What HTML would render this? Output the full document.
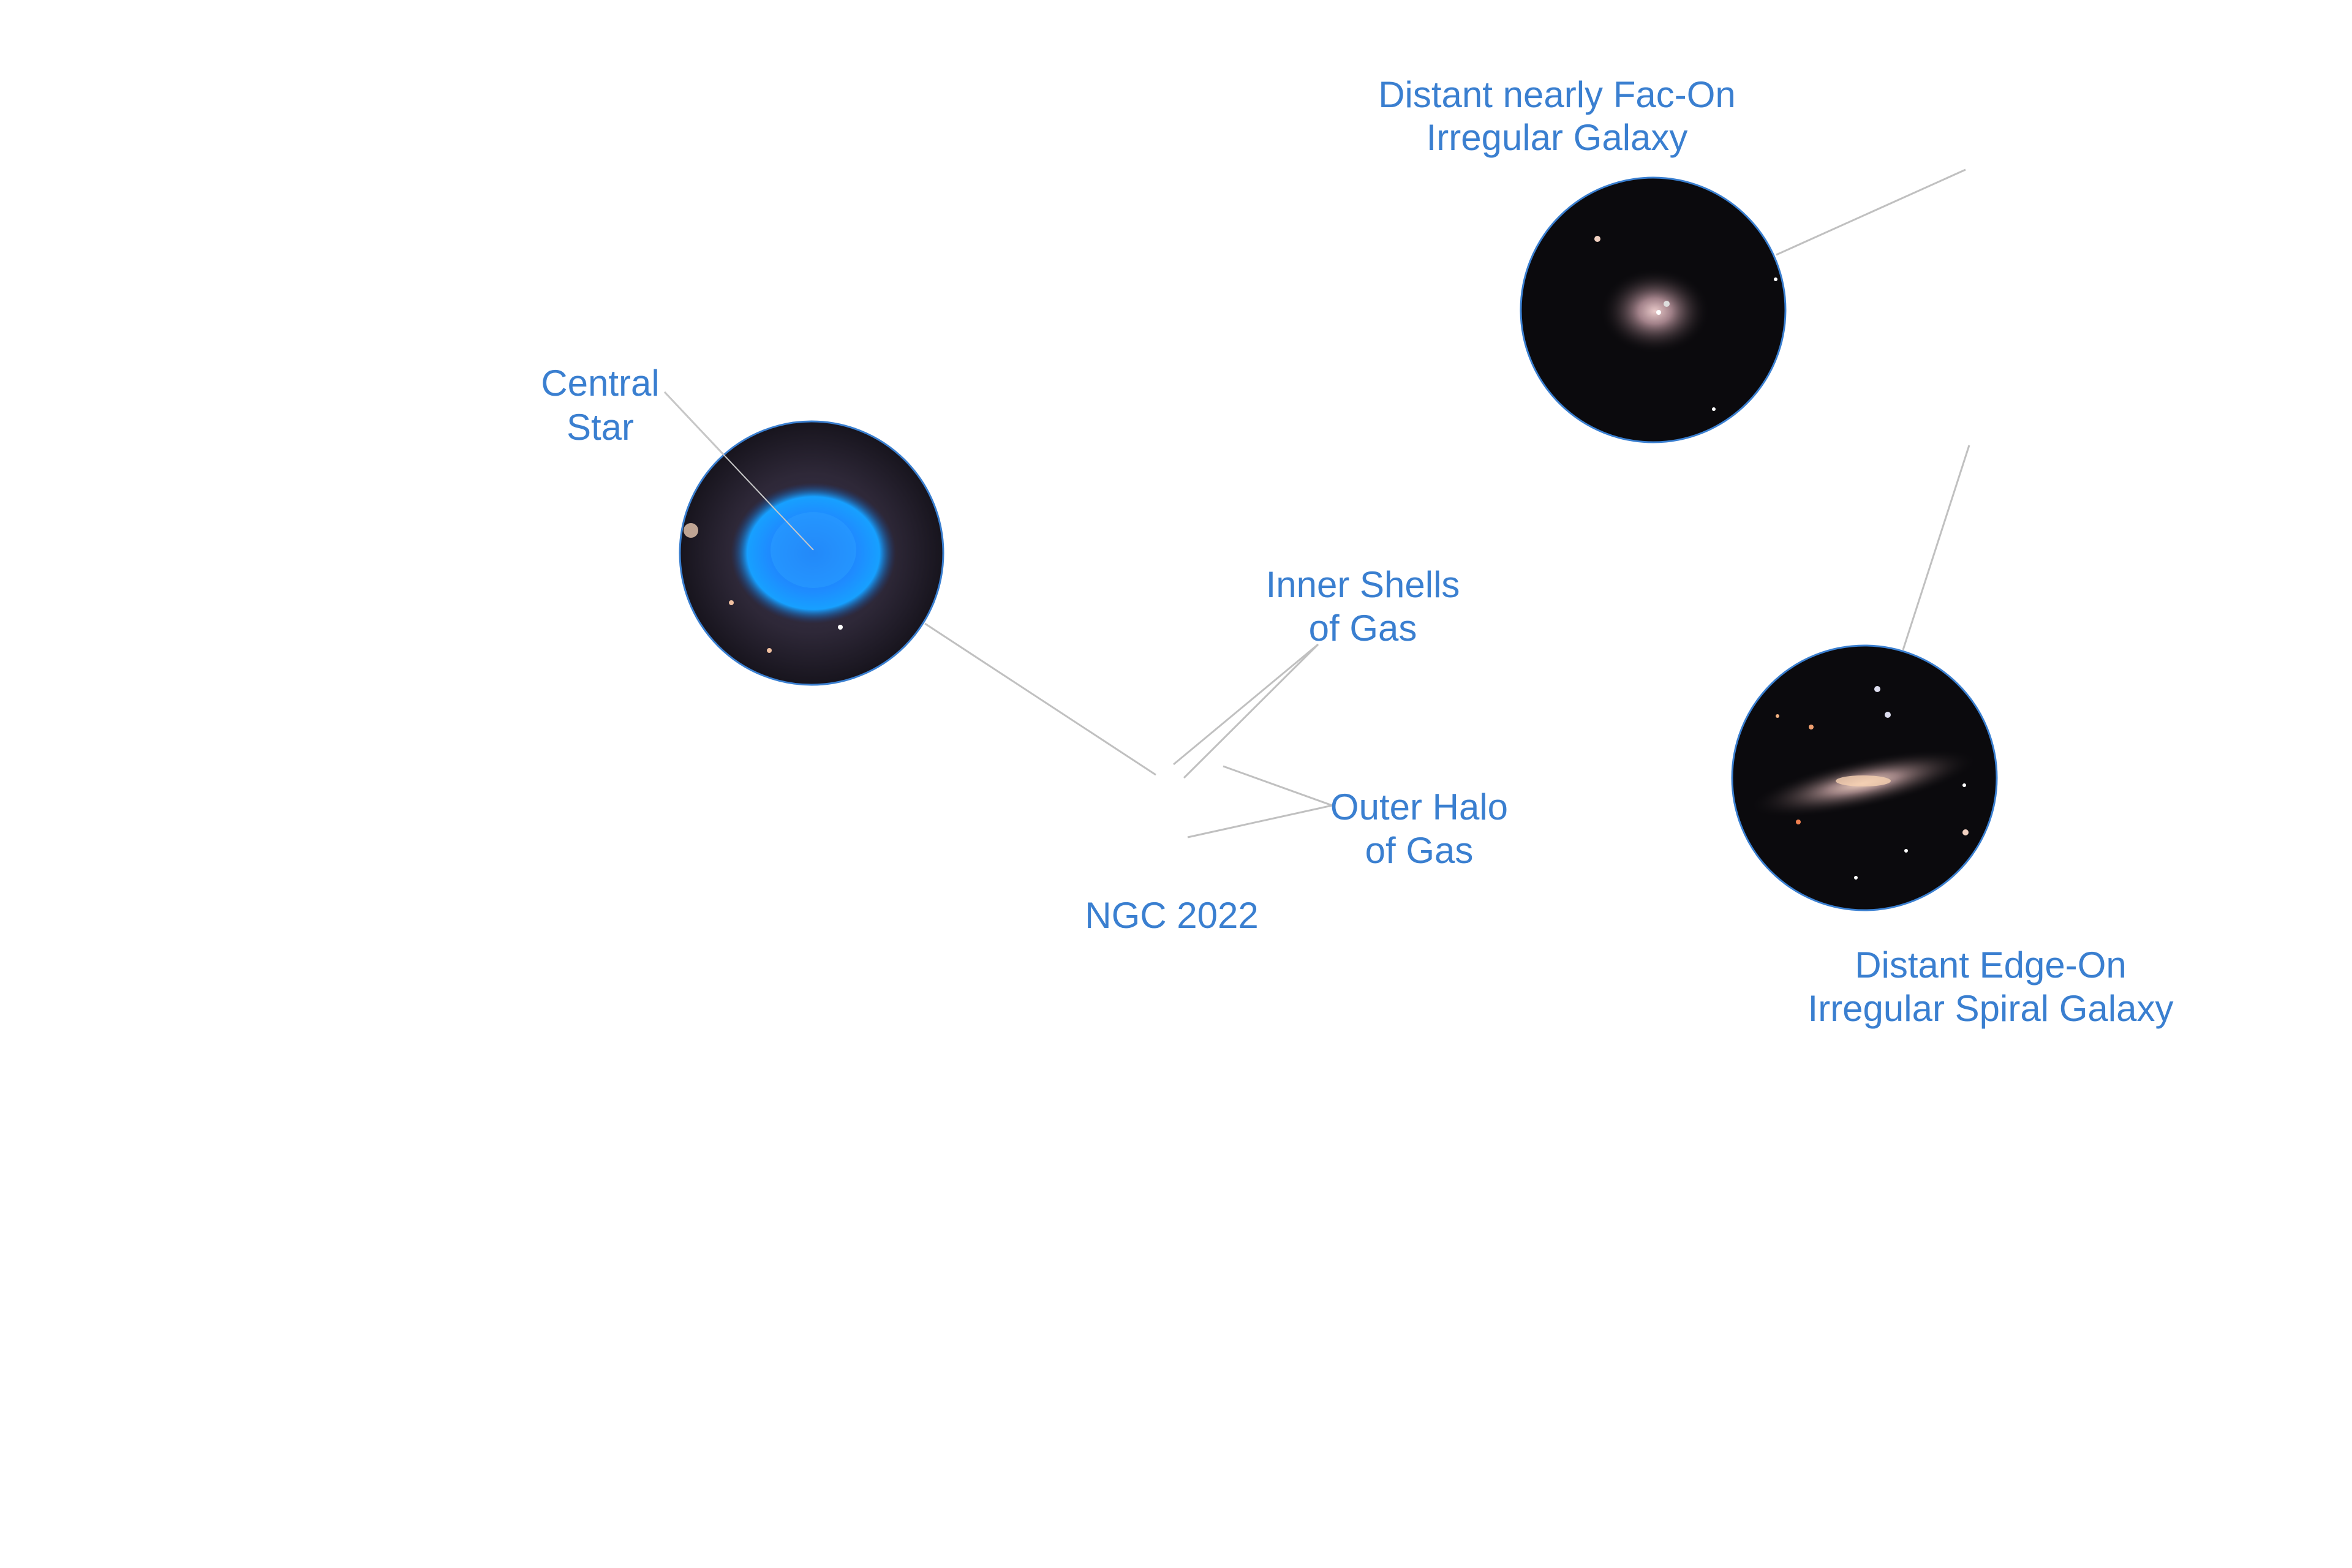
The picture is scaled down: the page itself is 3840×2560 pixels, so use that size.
<!DOCTYPE html>
<html><head><meta charset="utf-8"><style>
html,body{margin:0;padding:0;background:#fff}
svg{display:block}
text{font-family:"Liberation Sans",sans-serif;font-size:60px;fill:#3a7fd0;text-anchor:middle}
</style></head><body>
<svg width="3840" height="2560" viewBox="0 0 3840 2560" xmlns="http://www.w3.org/2000/svg">
<defs>
<radialGradient id="neb" cx="0.5" cy="0.5" r="0.5">
<stop offset="0" stop-color="#3a3550"/><stop offset="0.6" stop-color="#2e2838"/><stop offset="1" stop-color="#17141d"/>
</radialGradient>
<radialGradient id="blue" cx="0.5" cy="0.5" r="0.5">
<stop offset="0" stop-color="#1a6cf0"/><stop offset="0.55" stop-color="#1e8cff"/><stop offset="0.8" stop-color="#17a0ff"/><stop offset="1" stop-color="#1a3a80" stop-opacity="0"/>
</radialGradient>
<radialGradient id="g1" cx="0.5" cy="0.5" r="0.5">
<stop offset="0" stop-color="#e8c8c8"/><stop offset="0.3" stop-color="#a08088"/><stop offset="1" stop-color="#0a0a0d" stop-opacity="0"/>
</radialGradient>
<radialGradient id="g2" cx="0.5" cy="0.5" r="0.5">
<stop offset="0" stop-color="#f0d0c0"/><stop offset="0.3" stop-color="#9a7f80"/><stop offset="1" stop-color="#0a0a0d" stop-opacity="0"/>
</radialGradient>
</defs>
<g stroke="#c0c0c0" stroke-width="3" fill="none">
<line x1="1085" y1="640" x2="1328" y2="898"/>
<line x1="1510" y1="1018" x2="1887" y2="1265"/>
<line x1="2152" y1="1052" x2="1916" y2="1248"/>
<line x1="2152" y1="1052" x2="1933" y2="1270"/>
<line x1="2175" y1="1315" x2="1997" y2="1251"/>
<line x1="2175" y1="1315" x2="1939" y2="1367"/>
<line x1="2900" y1="416" x2="3209" y2="277"/>
<line x1="3215" y1="727" x2="3107" y2="1061"/>
</g>
<circle cx="1325" cy="903" r="215" fill="url(#neb)" stroke="#3a7fd0" stroke-width="3"/>
<ellipse cx="1328" cy="903" rx="135" ry="115" fill="url(#blue)"/>
<ellipse cx="1328" cy="898" rx="70" ry="62" fill="#2a9cff" opacity="0.6"/>
<circle cx="1128" cy="866" r="12" fill="#e8c8b0" opacity="0.8"/>
<circle cx="1194" cy="984" r="4" fill="#f0c0a0"/>
<circle cx="1372" cy="1024" r="4" fill="#fff"/>
<circle cx="1256" cy="1062" r="4" fill="#f0c0a0"/>
<line x1="1085" y1="640" x2="1328" y2="898" stroke="#c8c8c8" stroke-width="2"/>
<circle cx="2699" cy="506" r="216" fill="#0b0a0d" stroke="#3a7fd0" stroke-width="3"/>
<ellipse cx="2702" cy="508" rx="90" ry="70" fill="url(#g1)"/>
<circle cx="2708" cy="510" r="4" fill="#fff"/>
<circle cx="2721" cy="496" r="5" fill="#ddd"/>
<circle cx="2608" cy="390" r="5" fill="#f0d0c0"/>
<circle cx="2899" cy="456" r="3" fill="#fff"/>
<circle cx="2798" cy="668" r="3" fill="#fff"/>
<circle cx="3044" cy="1270" r="216" fill="#0b0a0d" stroke="#3a7fd0" stroke-width="3"/>
<ellipse cx="3042" cy="1279" rx="190" ry="40" fill="url(#g2)" transform="rotate(-12 3042 1279)"/>
<ellipse cx="3042" cy="1275" rx="45" ry="9" fill="#f5d0b0" opacity="0.8"/>
<circle cx="3065" cy="1125" r="5" fill="#dde"/>
<circle cx="3082" cy="1167" r="5" fill="#dde"/>
<circle cx="2902" cy="1169" r="3" fill="#f0b080"/>
<circle cx="2957" cy="1187" r="4" fill="#f0a070"/>
<circle cx="2936" cy="1342" r="4" fill="#f08050"/>
<circle cx="3207" cy="1282" r="3" fill="#fff"/>
<circle cx="3209" cy="1359" r="5" fill="#f0d0c0"/>
<circle cx="3112" cy="1389" r="3" fill="#fff"/>
<circle cx="3030" cy="1433" r="3" fill="#fff"/>
<text x="980" y="646">Central</text>
<text x="980" y="718">Star</text>
<text x="2225" y="975">Inner Shells</text>
<text x="2225" y="1046">of Gas</text>
<text x="2317" y="1338">Outer Halo</text>
<text x="2317" y="1409">of Gas</text>
<text x="1913" y="1515">NGC 2022</text>
<text x="2542" y="175">Distant nearly Fac-On</text>
<text x="2542" y="245">Irregular Galaxy</text>
<text x="3250" y="1596">Distant Edge-On</text>
<text x="3250" y="1667">Irregular Spiral Galaxy</text>
</svg>
</body></html>
